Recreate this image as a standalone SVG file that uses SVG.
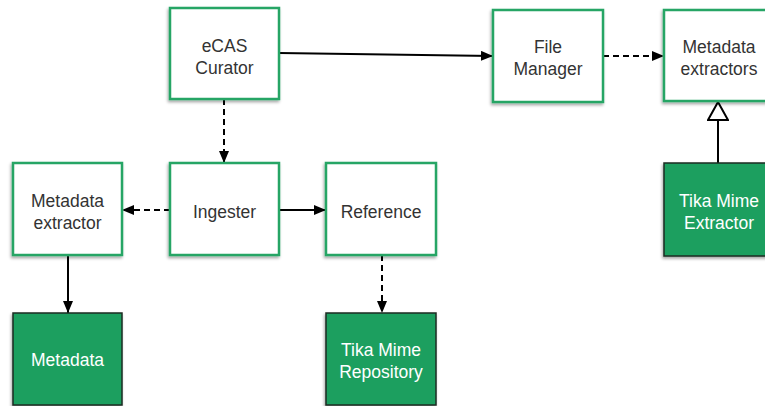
<svg xmlns="http://www.w3.org/2000/svg" width="765" height="406" viewBox="0 0 765 406">
<defs>
<filter id="sh" x="-20%" y="-20%" width="140%" height="140%">
<feDropShadow dx="-1" dy="2" stdDeviation="1.6" flood-color="#000" flood-opacity="0.35"/>
</filter>
<marker id="ah" viewBox="0 0 12 10" refX="12" refY="5" markerWidth="12" markerHeight="10" markerUnits="userSpaceOnUse" orient="auto">
<path d="M0,0 L12,5 L0,10 Z" fill="#000"/>
</marker>
<marker id="tri" viewBox="0 0 20 22" refX="19" refY="11" markerWidth="20" markerHeight="22" markerUnits="userSpaceOnUse" orient="auto">
<path d="M1,1 L19,11 L1,21 Z" fill="#fff" stroke="#000" stroke-width="2"/>
</marker>
<style>
.w{fill:#fff;stroke:#25a565;stroke-width:2.5;filter:url(#sh)}
.g{fill:#1a9f5e;stroke:#1c2b22;stroke-width:1.5;filter:url(#sh)}
.t{font-family:"Liberation Sans",Arial,sans-serif;font-size:17.5px;text-anchor:middle;fill:#333}
.tw{font-family:"Liberation Sans",Arial,sans-serif;font-size:17.5px;text-anchor:middle;fill:#fff}
.c{fill:none;stroke:#000;stroke-width:2}
.d{stroke-dasharray:6,4}
</style>
</defs>
<g id="connectors">
<path class="c" d="M279,53 L493,56" marker-end="url(#ah)"/>
<path class="c d" d="M603,56 L664,56" marker-end="url(#ah)"/>
<path class="c d" d="M224,99 L224,163" marker-end="url(#ah)"/>
<path class="c d" d="M170,210 L122,210" marker-end="url(#ah)"/>
<path class="c" d="M279,210 L326,210" marker-end="url(#ah)"/>
<path class="c" d="M68,255 L68,313" marker-end="url(#ah)"/>
<path class="c d" d="M382,255 L382,313" marker-end="url(#ah)"/>
<path class="c" d="M718,163 L718,102" marker-end="url(#tri)"/>
</g>
<g id="ecas">
<rect class="w" x="170" y="8" width="109" height="91"/>
<text class="t" x="224.5" y="52">eCAS</text>
<text class="t" x="224.5" y="74">Curator</text>
</g>
<g id="filemanager">
<rect class="w" x="493" y="10" width="110" height="92"/>
<text class="t" x="548" y="53">File</text>
<text class="t" x="548" y="75">Manager</text>
</g>
<g id="metadataextractors">
<rect class="w" x="664" y="10" width="110" height="91"/>
<text class="t" x="719" y="53">Metadata</text>
<text class="t" x="719" y="75">extractors</text>
</g>
<g id="metadataextractor">
<rect class="w" x="13" y="163" width="109" height="92"/>
<text class="t" x="67.5" y="207">Metadata</text>
<text class="t" x="67.5" y="229">extractor</text>
</g>
<g id="ingester">
<rect class="w" x="170" y="163" width="109" height="92"/>
<text class="t" x="224.5" y="218">Ingester</text>
</g>
<g id="reference">
<rect class="w" x="326" y="163" width="110" height="92"/>
<text class="t" x="381" y="218">Reference</text>
</g>
<g id="tikaextractor">
<rect class="g" x="664" y="163" width="110" height="93"/>
<text class="tw" x="719" y="207">Tika Mime</text>
<text class="tw" x="719" y="229">Extractor</text>
</g>
<g id="metadata">
<rect class="g" x="13" y="313" width="109" height="92"/>
<text class="tw" x="67.5" y="366">Metadata</text>
</g>
<g id="tikarepo">
<rect class="g" x="326" y="313" width="110" height="92"/>
<text class="tw" x="381" y="356">Tika Mime</text>
<text class="tw" x="381" y="378">Repository</text>
</g>
</svg>
